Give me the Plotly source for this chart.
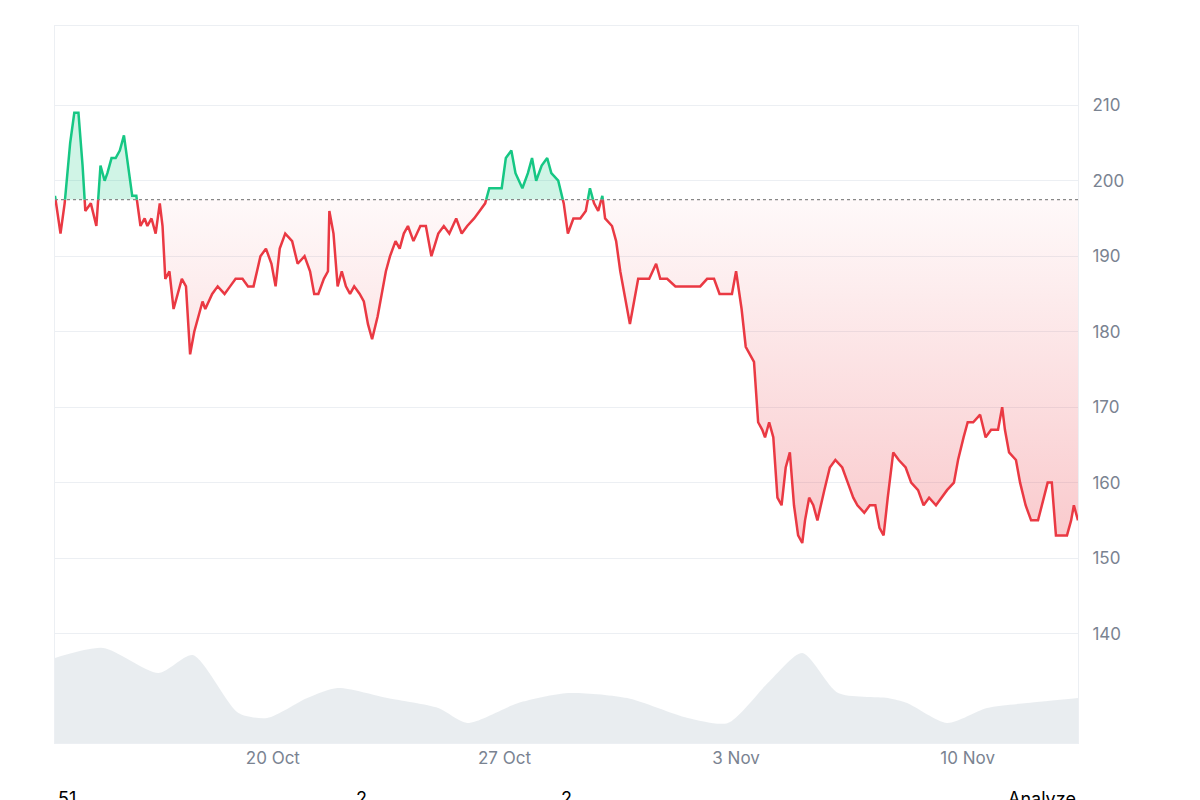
import pandas as pd
import plotly.graph_objects as go

## 가격 데이터 (시작 시점부터 경과 시간, 가격)
hours = [0,4,7,11,14,17,20,22,26,30,33,36,38,41,44,47,50,53,56,59,62,65,67,70,73,76,78,80,83,86,89,92,95,98,101,104,107,109,114,118,123,127,131,136,140,144,149,153,157,160,163,167,172,176,181,185,188,191,195,198,199,202,205,208,211,214,217,221,224,227,230,234,237,240,243,247,250,253,256,260,265,269,273,278,282,286,291,295,299,304,308,312,315,320,324,327,331,334,339,343,346,349,353,357,360,365,369,372,376,381,385,388,391,394,397,399,404,407,410,413,417,420,423,427,431,436,439,444,450,456,462,468,473,478,482,486,491,494,498,501,504,507,510,513,515,518,521,524,527,530,533,536,539,542,544,547,550,553,558,562,566,571,575,579,582,587,591,595,598,601,604,608,612,617,621,626,630,634,639,643,647,652,655,659,662,666,671,675,679,684,687,689,692,697,700,704,708,713,717,720,723,726,730,734,737,739,742]
price = [198,193,197,205,209,209,202,196,197,194,202,200,201,203,203,204,206,202,198,198,194,195,194,195,193,197,194,187,188,183,185,187,186,177,180,182,184,183,185,186,185,186,187,187,186,186,190,191,189,186,191,193,192,189,190,188,185,185,187,188,196,193,186,188,186,185,186,185,184,181,179,182,185,188,190,192,191,193,194,192,194,194,190,193,194,193,195,193,194,195,196,197,199,199,199,203,204,201,199,201,203,200,202,203,201,200,197,193,195,195,196,199,197,196,198,195,194,192,188,185,181,184,187,187,187,189,187,187,186,186,186,186,187,187,185,185,185,188,183,178,177,176,168,167,166,168,166,158,157,162,164,157,153,152,155,158,157,155,159,162,163,162,160,158,157,156,157,157,154,153,158,164,163,162,160,159,157,158,157,158,159,160,163,166,168,168,169,166,167,167,170,167,164,163,160,157,155,155,158,160,160,153,153,153,155,157,155]

## 거래량 (상대값)
vol_hours = [0,35,75,100,133,154,183,205,241,278,299,336,372,415,459,488,517,542,568,604,618,647,676,705,742]
volume = [85,95,70,88,30,25,45,55,45,35,20,40,50,45,25,20,60,90,50,45,40,20,35,40,45]

base = 197.5
start = pd.Timestamp("2024-10-13 10:00")

## 기준선 교차점 보간
t, v = [], []
for i in range(len(price)):
    if i > 0 and (price[i-1] - base) * (price[i] - base) < 0:
        f = (base - price[i-1]) / (price[i] - price[i-1])
        t.append(hours[i-1] + f * (hours[i] - hours[i-1]))
        v.append(base)
    t.append(hours[i])
    v.append(price[i])
x = [start + pd.Timedelta(hours=h) for h in t]
green = [p if p >= base else None for p in v]
red = [p if p <= base else None for p in v]

red_c = "#ea3943"
green_c = "#16c784"

fig = go.Figure()
fig.add_trace(go.Scatter(x=[start + pd.Timedelta(hours=h) for h in vol_hours], y=volume, yaxis="y2",
                         mode="lines", line=dict(width=0, shape="spline", smoothing=0.7), fill="tozeroy",
                         fillcolor="rgba(207,214,222,0.45)", hoverinfo="skip"))
fig.add_trace(go.Scatter(x=x, y=[base]*len(x), mode="lines", line=dict(width=0), hoverinfo="skip"))
fig.add_trace(go.Scatter(x=x, y=[min(p, base) for p in v], mode="lines", line=dict(width=0), fill="tonexty",
                         fillgradient=dict(type="vertical", start=150, stop=197.5,
                                           colorscale=[[0, "rgba(234,57,67,0.28)"], [1, "rgba(234,57,67,0.03)"]]),
                         hoverinfo="skip"))
fig.add_trace(go.Scatter(x=x, y=[base]*len(x), mode="lines", line=dict(width=0), hoverinfo="skip"))
fig.add_trace(go.Scatter(x=x, y=[max(p, base) for p in v], mode="lines", line=dict(width=0), fill="tonexty",
                         fillcolor="rgba(22,199,132,0.2)", hoverinfo="skip"))
fig.add_trace(go.Scatter(x=x, y=red, mode="lines", line=dict(color=red_c, width=2.5)))
fig.add_trace(go.Scatter(x=x, y=green, mode="lines", line=dict(color=green_c, width=2.5)))

fig.add_hline(y=base, line=dict(color="#888", width=1.2, dash="dot"))

fig.update_layout(
    width=1200, height=800, showlegend=False,
    plot_bgcolor="white", paper_bgcolor="white",
    margin=dict(l=47, r=130, t=18, b=65, autoexpand=False),
    font=dict(family="Inter, Roboto, sans-serif", color="#7a8391", size=17),
    xaxis=dict(range=[start, start + pd.Timedelta(hours=742)], showgrid=False, automargin=False,
               tickvals=["2024-10-20", "2024-10-27", "2024-11-03", "2024-11-10"],
               ticktext=["20 Oct", "27 Oct", "3 Nov", "10 Nov"],
               showline=True, linecolor="#eceff3", mirror=True, ticks=""),
    yaxis=dict(side="right", range=[125.5, 220.5], tickvals=[140, 150, 160, 170, 180, 190, 200, 210],
               gridcolor="#eceff3", zeroline=False, showline=True, linecolor="#eceff3", mirror=True,
               ticklabelstandoff=10, automargin=False),
    yaxis2=dict(overlaying="y", range=[0, 717], visible=False),
)
for xp, txt in [(0.012, "51"), (0.3, "2"), (0.5, "2"), (1.0, "Analyze")]:
    fig.add_annotation(x=xp, y=-0.077, xref="paper", yref="paper", text=txt, showarrow=False,
                       yanchor="middle", font=dict(color="black", size=18),
                       xanchor="center" if xp < 1 else "right")

fig.write_html("out.html")
